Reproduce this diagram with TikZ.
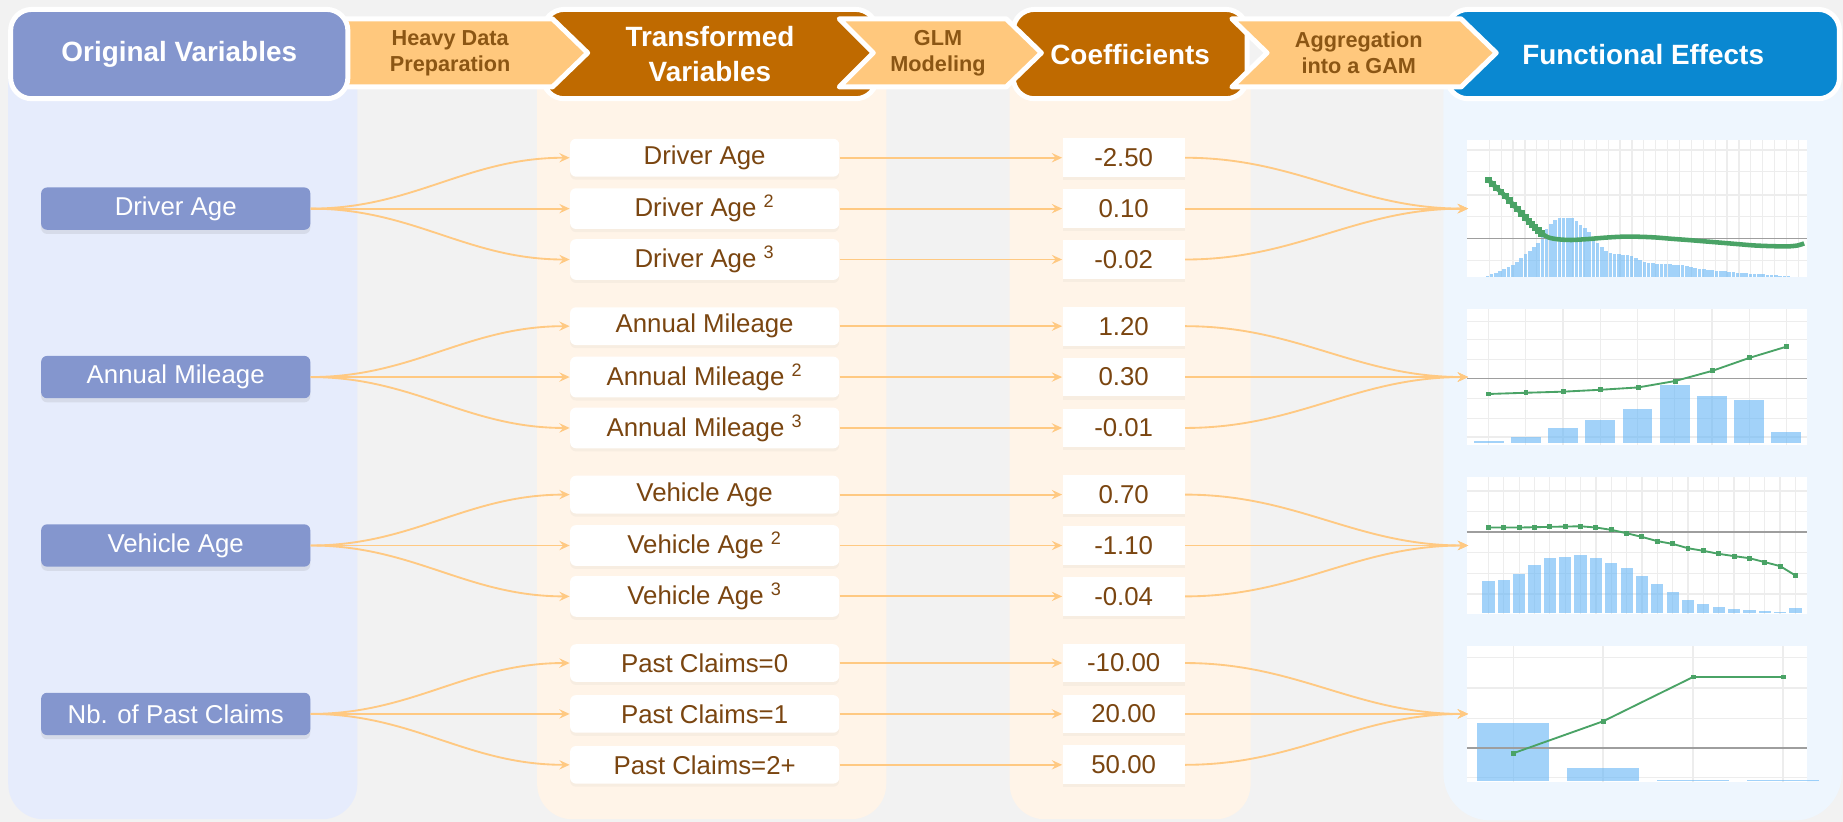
\documentclass[tikz,border=0pt]{standalone}
\usepackage{fontspec}
\setmainfont{Liberation Sans}
\usetikzlibrary{arrows.meta}
\usetikzlibrary{shadows}

\definecolor{bgGray}{HTML}{F2F2F2}
\definecolor{origBlue}{HTML}{8496CE}
\definecolor{origPanel}{HTML}{E6ECFC}
\definecolor{stepOrange}{HTML}{FFC87D}
\definecolor{stepText}{HTML}{8B5614}
\definecolor{transBrown}{HTML}{BF6A00}
\definecolor{transPanel}{HTML}{FFF4E8}
\definecolor{transText}{HTML}{7A4510}
\definecolor{effBlue}{HTML}{0A88D1}
\definecolor{effPanel}{HTML}{EEF6FE}
\definecolor{linkOrange}{HTML}{FFC982}
\definecolor{gridGray}{HTML}{EDEDED}
\definecolor{zeroGray}{HTML}{9E9E9E}
\definecolor{barBlue}{HTML}{64B5F6}
\definecolor{fitGreen}{HTML}{4AA366}

\tikzset{
	headbox/.style={draw=white, line width=2.4pt, rounded corners=0.36cm, text=white,
		font=\fontsize{13.5}{17}\selectfont\bfseries, align=center, minimum height=1.52cm},
	stepbox/.style={fill=stepOrange, draw=white, line width=2.4pt, line join=round},
	steptext/.style={text=stepText, font=\fontsize{10.5}{12.5}\selectfont\bfseries, align=center},
	orignode/.style={fill=origBlue, text=white, rounded corners=0.1cm, minimum width=4.58cm,
		minimum height=0.72cm, font=\fontsize{12.5}{15}\selectfont,
		drop shadow={shadow xshift=0pt, shadow yshift=-2pt, opacity=0.15}},
	transnode/.style={fill=white, text=transText, rounded corners=0.1cm, minimum width=4.58cm,
		minimum height=0.64cm, font=\fontsize{12.5}{15}\selectfont,
		drop shadow={shadow xshift=0pt, shadow yshift=-1.5pt, opacity=0.06}},
	coefnode/.style={fill=white, text=transText, minimum width=2.08cm, minimum height=0.66cm,
		font=\fontsize{12.5}{15}\selectfont,
		drop shadow={shadow xshift=0pt, shadow yshift=-1.5pt, opacity=0.06}},
	flowlink/.style={draw=linkOrange, line width=0.9pt, -{Stealth[length=5pt, width=4.5pt, inset=1.8pt]}},
	gridline/.style={draw=gridGray, line width=0.6pt},
	zeroline/.style={draw=zeroGray, line width=0.7pt},
	histbar/.style={fill=barBlue, fill opacity=0.6},
	fitline/.style={draw=fitGreen, line width=0.9pt},
}

% marcador cuadrado de la curva ajustada
\newcommand{\fitdot}[2][1.2pt]{\fill[fitGreen] #2 ++(-#1,-#1) rectangle ++(2*#1,2*#1);}

\begin{document}
\begin{tikzpicture}[x=0.02cm, y=-0.02cm]

% fondo
	\fill[bgGray] (0,0) rectangle (1568,699);
	\useasboundingbox (0,0) rectangle (1568,699);

% columnas
	\fill[origPanel, rounded corners=0.6cm] (7,40) rectangle (304,697);
	\fill[transPanel, rounded corners=0.6cm] (457,40) rectangle (754,697);
	\fill[transPanel, rounded corners=0.6cm] (859,40) rectangle (1064,697);
	\fill[effPanel, rounded corners=0.8cm] (1228,40) rectangle (1567,698);

% cabeceras
	\node[headbox, fill=transBrown, minimum width=5.68cm] (hTrans) at (604,46) {Transformed\\Variables};
	\node[headbox, fill=transBrown, minimum width=3.98cm] (hCoef) at (961.5,46) {Coefficients};
	\node[headbox, fill=effBlue, minimum width=6.68cm] (hEff) at (1398,46) {Functional Effects};

% pasos
	\draw[stepbox] (280,16) -- (470,16) -- (500,45) -- (470,74) -- (280,74) -- cycle;
	\node[steptext] (stepPrep) at (383,45) {Heavy Data\\Preparation};
	\draw[stepbox] (714,16) -- (856,16) -- (886,45) -- (856,74) -- (714,74) -- (743,45) -- cycle;
	\node[steptext] (stepGlm) at (798,45) {GLM\\Modeling};
	\draw[stepbox] (1048,16) -- (1243,16) -- (1273,45) -- (1243,74) -- (1048,74) -- (1078,45) -- cycle;
	\node[steptext] (stepGam) at (1156,45) {Aggregation\\into a GAM};

	\node[headbox, fill=origBlue, minimum width=5.74cm] (hOrig) at (152.5,46) {Original Variables};

% variables originales
	\foreach \g/\lab in {1/Driver Age, 2/Annual Mileage, 3/Vehicle Age, 4/Nb. of Past Claims} {
		\node[orignode] (orig-\g) at (149.5, {34.2+143.3*\g}) {\lab};
		\coordinate (eff-\g) at (1249, {34.2+143.3*\g});
	}

% variables transformadas y coeficientes
	\foreach \g/\r/\lab/\val in {
		1/1/Driver Age/-2.50, 1/2/Driver Age \textsuperscript{2}/0.10, 1/3/Driver Age \textsuperscript{3}/-0.02,
		2/1/Annual Mileage/1.20, 2/2/Annual Mileage \textsuperscript{2}/0.30, 2/3/Annual Mileage \textsuperscript{3}/-0.01,
		3/1/Vehicle Age/0.70, 3/2/Vehicle Age \textsuperscript{2}/-1.10, 3/3/Vehicle Age \textsuperscript{3}/-0.04,
		4/1/Past Claims=0/-10.00, 4/2/Past Claims=1/20.00, 4/3/Past Claims=2+/50.00} {
		\node[transnode] (trans-\g-\r) at (599.5, {34.2+143.3*\g+43.3*(\r-2)}) {\lab};
		\node[coefnode] (coef-\g-\r) at (956, {34.2+143.3*\g+43.3*(\r-2)}) {\val};
	}

% efecto 1
	\begin{scope}[shift={(1248,235.5)}, x=5.78cm, y=2.32cm]
		\fill[white] (0,0) rectangle (1,1);
		\foreach \i in {0,...,26}
			\draw[gridline] ({0.066+0.035*\i},0) -- ++(0,1);
		\foreach \v in {0.12,0.44,0.60,0.77,0.93}
			\draw[gridline] (0,\v) -- (1,\v);
		\foreach \h [count=\k from 0] in {0.005,0.0175,0.03,0.0425,0.055,0.071,0.087,0.112,0.139,0.165,
			0.19,0.215,0.25,0.29,0.35,0.39,0.42,0.43,0.435,0.435,0.428,0.41,0.38,0.355,0.325,0.29,
			0.245,0.215,0.19,0.176,0.168,0.164,0.162,0.161,0.155,0.138,0.122,0.108,0.099,0.098,
			0.096,0.095,0.093,0.091,0.089,0.087,0.085,0.08,0.072,0.064,0.059,0.056,0.052,0.049,
			0.046,0.043,0.04,0.037,0.034,0.031,0.028,0.026,0.024,0.022,0.02,0.017,0.015,0.013,
			0.011,0.009,0.007,0.005}
			\fill[histbar] ({0.0548+0.0125*\k},0) rectangle ++(0.0105,\h);
		\draw[zeroline] (0,0.28) -- (1,0.28);
		\draw[fitline, line width=2.2pt] plot[smooth] coordinates {(0.064,0.711) (0.088,0.650)
			(0.113,0.593) (0.137,0.527) (0.161,0.466) (0.183,0.404) (0.201,0.363) (0.220,0.319)
			(0.240,0.289) (0.269,0.275) (0.308,0.270) (0.357,0.277) (0.406,0.287) (0.455,0.294)
			(0.504,0.294) (0.553,0.289) (0.602,0.279) (0.651,0.270) (0.700,0.260) (0.749,0.250)
			(0.797,0.240) (0.846,0.230) (0.895,0.225) (0.944,0.223) (0.974,0.230) (0.993,0.245)};
		\foreach \u/\v in {0.064/0.711, 0.076/0.68, 0.088/0.650, 0.100/0.622, 0.113/0.593,
			0.125/0.56, 0.137/0.527, 0.149/0.497, 0.161/0.466, 0.172/0.435, 0.183/0.404,
			0.192/0.383, 0.201/0.363, 0.211/0.34, 0.220/0.319} {
			\fitdot[1.6pt]{(\u,\v)}
		}
	\end{scope}

% efecto 2
	\begin{scope}[shift={(1248,378.8)}, x=5.78cm, y=2.32cm]
		\fill[white] (0,0) rectangle (1,1);
		\foreach \i in {0,...,8}
			\draw[gridline] ({0.064+0.1096*\i},0) -- ++(0,1);
		\foreach \v in {0.061,0.195,0.341,0.627,0.773,0.91}
			\draw[gridline] (0,\v) -- (1,\v);
		\foreach \h [count=\k from 0] in {0.029,0.061,0.127,0.185,0.266,0.439,0.363,0.332,0.095}
			\fill[histbar] ({0.020+0.1096*\k},0.015) rectangle ++(0.088,{\h-0.015});
		\draw[zeroline] (0,0.488) -- (1,0.488);
		\draw[fitline] plot coordinates {(0.064,0.376) (0.174,0.385) (0.284,0.393) (0.394,0.407)
			(0.504,0.424) (0.613,0.471) (0.723,0.546) (0.832,0.641) (0.942,0.724)};
		\foreach \u/\v in {0.064/0.376, 0.174/0.385, 0.284/0.393, 0.394/0.407, 0.504/0.424,
			0.613/0.471, 0.723/0.546, 0.832/0.641, 0.942/0.724} {
			\fitdot{(\u,\v)}
		}
	\end{scope}

% efecto 3
	\begin{scope}[shift={(1248,522.1)}, x=5.78cm, y=2.32cm]
		\fill[white] (0,0) rectangle (1,1);
		\foreach \i in {0,...,20}
			\draw[gridline] ({0.0635+0.0452*\i},0) -- ++(0,1);
		\foreach \v in {0.144,0.295,0.446,0.749,0.90}
			\draw[gridline] (0,\v) -- (1,\v);
		\foreach \h [count=\k from 0] in {0.241,0.246,0.290,0.354,0.405,0.415,0.429,0.412,0.371,0.337,
			0.280,0.217,0.159,0.102,0.068,0.049,0.037,0.029,0.020,0.015,0.041}
			\fill[histbar] ({0.0455+0.0452*\k},0.007) rectangle ++(0.036,{\h-0.007});
		\draw[zeroline] (0,0.598) -- (1,0.598);
		\draw[fitline] plot coordinates {(0.0635,0.632) (0.1087,0.632) (0.1539,0.632) (0.1991,0.634)
			(0.2443,0.637) (0.2895,0.639) (0.3347,0.641) (0.3799,0.632) (0.4251,0.615) (0.4703,0.590)
			(0.5155,0.563) (0.5607,0.532) (0.6059,0.512) (0.6511,0.480) (0.6963,0.461) (0.7415,0.439)
			(0.7867,0.422) (0.8319,0.407) (0.8771,0.378) (0.9223,0.349) (0.9675,0.280)};
		\foreach \v [count=\k from 0] in {0.632,0.632,0.632,0.634,0.637,0.639,0.641,0.632,0.615,0.590,
			0.563,0.532,0.512,0.480,0.461,0.439,0.422,0.407,0.378,0.349,0.280} {
			\fitdot{({0.0635+0.0452*\k},\v)}
		}
	\end{scope}

% efecto 4
	\begin{scope}[shift={(1248,665.4)}, x=5.78cm, y=2.32cm]
		\fill[white] (0,0) rectangle (1,1);
		\foreach \u in {0.137,0.401,0.666,0.931}
			\draw[gridline] (\u,0) -- (\u,1);
		\foreach \v in {0.032,0.468,0.690,0.915}
			\draw[gridline] (0,\v) -- (1,\v);
		\foreach \u/\h in {0.137/0.434, 0.401/0.102, 0.666/0.018, 0.931/0.013}
			\fill[histbar] ({\u-0.106},0.01) rectangle ({\u+0.106},\h);
		\draw[zeroline] (0,0.249) -- (1,0.249);
		\draw[fitline] plot coordinates {(0.137,0.212) (0.401,0.446) (0.666,0.771) (0.931,0.771)};
		\foreach \u/\v in {0.137/0.212, 0.401/0.446, 0.666/0.771, 0.931/0.771} {
			\fitdot{(\u,\v)}
		}
	\end{scope}

% conexiones
	\foreach \g in {1,...,4}
		\foreach \r in {1,2,3} {
			\draw[flowlink] (orig-\g.east) to[out=0, in=180] (trans-\g-\r.west);
			\draw[flowlink] (trans-\g-\r.east) -- (coef-\g-\r.west);
			\draw[flowlink] (coef-\g-\r.east) to[out=0, in=180] (eff-\g);
		}
\end{tikzpicture}
\end{document}
